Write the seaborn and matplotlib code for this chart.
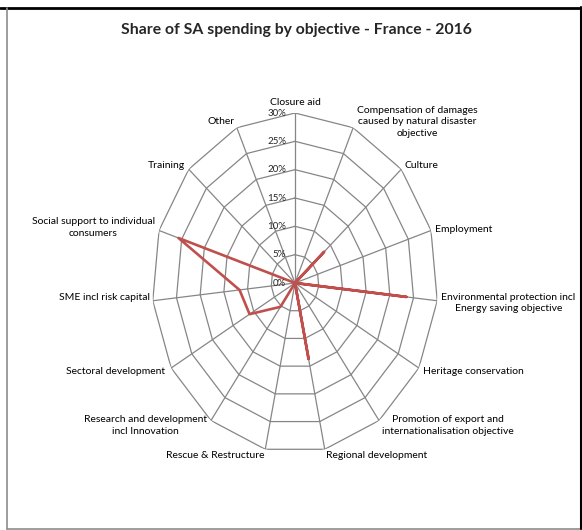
import numpy as np
import matplotlib
matplotlib.use("Agg")
import matplotlib.pyplot as plt
import seaborn as sns
from matplotlib.lines import Line2D

# data (share of spending, %)
categories = [
    "Closure aid",
    "Compensation of damages\ncaused by natural disaster\nobjective",
    "Culture",
    "Employment",
    "Environmental protection incl\nEnergy saving objective",
    "Heritage conservation",
    "Promotion of export and\ninternationalisation objective",
    "Regional development",
    "Rescue & Restructure",
    "Research and development\nincl Innovation",
    "Sectoral development",
    "SME incl risk capital",
    "Social support to individual\nconsumers",
    "Training",
    "Other",
]
shares = [0.0, 0.0, 8.2, 0.0, 23.5, 0.0, 0.0, 13.7, 0.0, 5.2, 11.0, 11.7, 25.7, 0.0, 0.0]
ring_values = [5, 10, 15, 20, 25, 30]
ring_labels = ["0%", "5%", "10%", "15%", "20%", "25%", "30%"]

sns.set_style("white")
plt.rcParams["font.family"] = ["Lato", "DejaVu Sans"]

W, H = 582, 530
fig = plt.figure(figsize=(W / 100, H / 100), dpi=100)
ax = fig.add_axes([152 / W, (H - 453) / H, 286 / W, 340 / H], projection="polar")
ax.set_aspect("auto")
ax.set_theta_zero_location("N")
ax.set_theta_direction(-1)
ax.set_ylim(0, 30)
ax.set_xticks([])
ax.set_yticks([])
ax.grid(False)
ax.spines["polar"].set_visible(False)
ax.patch.set_alpha(0)

n = len(categories)
theta = np.linspace(0, 2 * np.pi, n, endpoint=False)
theta_c = np.append(theta, theta[0] + 2 * np.pi)

grid_col = "#868686"
# polygon rings
for r in ring_values:
    ax.plot(theta_c, [r] * (n + 1), color=grid_col, lw=0.9, zorder=1)
# spokes
for t in theta:
    ax.plot([t, t], [0, 30], color=grid_col, lw=0.9, zorder=1)

# series
vals_c = shares + [shares[0]]
sns.lineplot(x=theta_c, y=vals_c, sort=False, estimator=None, ax=ax,
             color="#C0504D", lw=1.9, zorder=3)

# radial tick labels
for i, lab in enumerate(ring_labels):
    ax.annotate(lab, xy=(0, i * 5), xytext=(-9, 0), textcoords="offset pixels",
                ha="right", va="center", fontsize=7, color="#262626", zorder=4)

# category labels: (dx, dy, ha, va) in pixels
offsets = [
    (0, 6, "center", "bottom"),
    (4, 6, "left", "center"),
    (3, 4, "left", "center"),
    (4, 1, "left", "center"),
    (4, -2, "left", "center"),
    (4, -3, "left", "center"),
    (3, -5, "left", "center"),
    (1, -6, "left", "center"),
    (-1, -6, "right", "center"),
    (-4, -5, "right", "center"),
    (-6, -3, "right", "center"),
    (-3, 3, "right", "center"),
    (-4, 3, "right", "center"),
    (-4, 4, "right", "center"),
    (-2, 6, "right", "center"),
]
for t, lab, (dx, dy, ha, va) in zip(theta, categories, offsets):
    ax.annotate(lab, xy=(t, 30), xytext=(dx, dy), textcoords="offset pixels",
                ha=ha, va=va, multialignment="center", fontsize=7.5,
                linespacing=1.35, color="black", annotation_clip=False)

fig.text(296 / W, 1 - 30 / H, "Share of SA spending by objective - France - 2016",
         ha="center", va="center", fontsize=11.3, fontweight="bold")

# frame lines
def px_line(x0, y0, x1, y1, **kw):
    fig.add_artist(Line2D([x0 / W, x1 / W], [1 - y0 / H, 1 - y1 / H],
                          transform=fig.transFigure, **kw))

px_line(0, 7.7, W, 7.7, color="black", lw=2)
px_line(7.3, 8, 7.3, 528.5, color="#8c8c8c", lw=1.2)
px_line(7, 528.5, W, 528.5, color="#8c8c8c", lw=1.2)
px_line(580.5, 7, 580.5, 528.5, color="black", lw=1.5)

fig.savefig("out.png", dpi=100)
